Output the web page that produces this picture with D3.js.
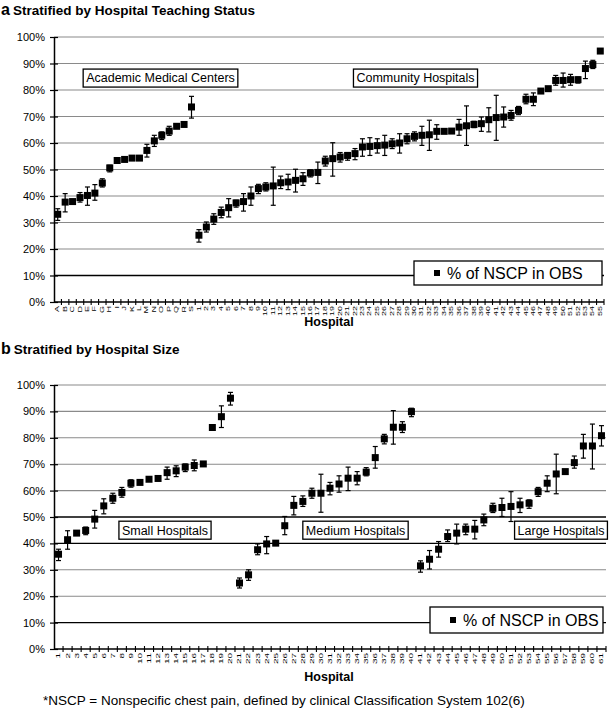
<!DOCTYPE html>
<html>
<head>
<meta charset="utf-8">
<script src="https://cdn.jsdelivr.net/npm/d3@7"></script>
<style>
  body { margin: 0; background: #fff; }
  text { font-family: Arial, "Liberation Sans", sans-serif; }
</style>
</head>
<body>
<svg id="chart" width="610" height="710"></svg>
<script>
// ---- panel a : teaching status ----
var teachCats = ["A","B","C","D","E","F","G","H","I","J","K","L","M","N","O","P","Q","R","S",
  "1","2","3","4","5","6","7","8","9","10","11","12","13","14","15","16","17","18","19","20",
  "21","22","23","24","25","26","27","28","29","30","31","32","33","34","35","36","37","38","39","40",
  "41","42","43","44","45","46","47","48","49","50","51","52","53","54","55"];
var teachVal = [33.1,37.7,37.9,39.4,40.2,41.1,44.9,50.6,53.4,53.8,54.3,54.3,57.2,60.8,62.9,64.5,66.3,67.0,73.6,
  25.2,28.3,31.3,33.8,35.6,37.4,37.9,40.0,42.8,43.4,43.8,45.0,45.3,45.9,46.5,48.7,48.9,53.2,54.1,54.7,
  55.3,56.0,58.5,58.7,59.0,59.2,59.7,60.0,61.6,62.5,62.9,63.1,64.4,64.4,64.5,66.0,66.5,67.0,67.3,68.8,
  69.6,69.8,70.4,72.3,76.5,76.5,79.6,80.5,83.6,83.6,83.9,83.9,88.1,89.6,94.7];
var teachLo = [30.8,34.0,37.2,37.7,36.5,38.4,43.4,49.1,52.8,53.3,53.8,53.8,54.7,58.7,61.3,62.9,65.6,66.2,69.4,
  22.6,26.4,29.3,31.8,32.1,35.8,34.3,36.5,40.9,41.9,36.5,42.8,42.4,41.5,44.0,47.2,44.7,51.3,47.5,52.8,
  53.5,53.7,55.0,55.3,56.2,55.3,57.9,56.2,59.7,60.8,59.1,57.2,61.4,63.6,63.7,62.9,59.1,65.8,64.4,64.2,
  61.0,66.0,68.6,70.7,74.8,74.1,79.0,79.9,81.8,81.1,81.8,82.6,84.3,88.1,94.2];
var teachHi = [35.2,40.9,38.6,41.3,43.4,44.3,46.5,51.6,54.0,54.3,54.8,54.8,59.5,62.9,64.2,66.3,67.0,67.8,77.6,
  27.3,30.2,33.3,35.8,39.0,38.4,40.9,43.4,44.4,45.0,50.9,47.5,48.2,50.1,48.8,49.9,52.8,55.0,60.1,56.4,
  56.4,57.9,61.6,62.0,61.6,62.9,61.6,63.5,63.5,64.2,66.3,68.6,66.9,65.2,65.3,68.9,74.0,68.2,69.8,73.3,
  78.0,73.6,72.3,73.8,78.4,78.9,80.2,81.1,85.5,86.4,85.9,84.9,90.9,91.2,95.2];

// ---- panel b : hospital size ----
var sizeCats = ["1","2","3","4","5","6","7","8","9","10","11","12","13","14","15","16","17","18","19","20",
  "21","22","23","24","25","26","27","28","29","30","31","32","33","34","35","36","37","38","39","40",
  "41","42","43","44","45","46","47","48","49","50","51","52","53","54","55","56","57","58","59","60","61"];
var sizeVal = [35.9,41.4,43.9,44.9,49.2,54.2,57.1,59.3,62.8,63.1,64.3,64.6,66.8,67.5,68.9,69.5,70.1,83.9,88.0,95.0,
  25.0,28.1,37.6,39.8,40.1,46.7,54.4,55.9,59.0,59.0,60.9,62.5,64.7,64.7,67.0,72.5,79.6,84.0,84.0,89.9,
  31.5,34.0,37.8,42.6,43.9,45.4,45.4,48.9,53.3,53.6,54.0,54.6,55.2,59.6,62.8,66.3,67.2,70.6,76.9,76.9,80.8];
var sizeLo = [33.5,37.8,43.2,43.3,45.8,51.2,55.2,57.5,61.3,62.4,63.6,63.9,64.3,65.3,67.2,67.5,69.4,83.2,83.9,92.4,
  23.1,26.0,35.7,36.1,39.4,43.3,50.8,54.0,57.1,51.8,58.4,59.4,60.0,62.2,65.6,68.5,77.7,77.6,82.0,88.0,
  29.1,30.3,34.8,40.7,39.8,43.3,41.7,46.7,51.7,50.2,48.3,51.7,53.3,57.8,59.6,58.8,66.5,68.5,72.3,68.2,76.9];
var sizeHi = [37.8,44.8,44.6,46.2,52.5,56.9,59.0,61.2,64.1,63.8,65.0,65.3,68.9,69.4,70.1,71.6,70.8,84.6,92.1,97.2,
  26.9,30.0,39.8,42.6,40.8,50.2,57.8,58.0,60.9,66.2,63.1,65.6,68.9,67.2,68.7,76.7,81.3,90.3,86.1,91.2,
  33.4,37.3,40.7,45.1,47.3,47.3,48.7,51.1,55.2,57.1,59.6,57.1,56.5,61.2,65.6,73.8,67.9,73.1,81.3,85.2,84.6];

var yTicks = [0,10,20,30,40,50,60,70,80,90,100];
var legendText = "% of NSCP in OBS";
var footnote = "*NSCP = Nonspecific chest pain, defined by clinical Classification System 102(6)";

var svg = d3.select("#chart");

function drawPanel(p) {
  var g = svg.append("g");
  var x = d3.scaleBand().domain(p.cats).range([p.left, p.right]);
  var y = d3.scaleLinear().domain([0, 100]).range([p.bottom, p.top]);

  // gridlines
  g.selectAll("line.grid").data(yTicks.filter(function(d){ return d > 0; }))
    .enter().append("line")
    .attr("x1", p.left).attr("x2", p.right)
    .attr("y1", function(d){ return y(d); }).attr("y2", function(d){ return y(d); })
    .attr("stroke", function(d){ return p.dark.indexOf(d) >= 0 ? "#000" : "#8a8a8a"; })
    .attr("stroke-width", function(d){ return p.dark.indexOf(d) >= 0 ? 1.4 : 1.1; });

  // y axis
  var ya = d3.axisLeft(y).tickValues(yTicks).tickSize(0).tickPadding(9)
    .tickFormat(function(d){ return d + "%"; });
  var yg = g.append("g").attr("transform", "translate(" + p.left + ",0)").call(ya);
  yg.select(".domain").attr("stroke", "#000").attr("stroke-width", 1.5);
  yg.selectAll("text").attr("font-size", 11).attr("fill", "#000").attr("font-family", "Arial, 'Liberation Sans', sans-serif");
  yg.selectAll(".tick").append("line").attr("x1", -4).attr("x2", 4).attr("stroke", "#000").attr("stroke-width", 1.2);

  // x axis with cross ticks at category boundaries
  g.append("line").attr("x1", p.left).attr("x2", p.right)
    .attr("y1", p.bottom).attr("y2", p.bottom).attr("stroke", "#000").attr("stroke-width", 1.5);
  var bounds = p.cats.map(function(c){ return x(c) + x.bandwidth(); });
  g.selectAll("line.xt").data(bounds).enter().append("line")
    .attr("x1", function(d){ return d; }).attr("x2", function(d){ return d; })
    .attr("y1", p.bottom - 3).attr("y2", p.bottom + 3)
    .attr("stroke", "#000").attr("stroke-width", 1.1);
  g.selectAll("text.xl").data(p.cats).enter().append("text")
    .attr("transform", function(d){
      return "translate(" + (x(d) + x.bandwidth() / 2) + "," + (p.bottom + 4) + ") rotate(-90) scale(1," + p.squish + ")";
    })
    .attr("text-anchor", "end").attr("dy", "0.35em")
    .attr("font-size", p.labelSize).attr("fill", "#000")
    .text(function(d){ return d; });

  // annotation boxes
  p.boxes.forEach(function(b) {
    var t = g.append("text").attr("x", b.cx).attr("y", y(b.v)).attr("dy", "0.35em")
      .attr("text-anchor", "middle").attr("font-size", 12.5).text(b.text);
    var bb = t.node().getBBox();
    g.insert("rect", function(){ return t.node(); })
      .attr("x", bb.x - 3).attr("y", y(b.v) - 9).attr("width", bb.width + 6).attr("height", 18)
      .attr("fill", "#fff").attr("stroke", "#000").attr("stroke-width", 1.3);
  });

  // error bars
  var data = p.cats.map(function(c, i){ return {c: c, v: p.val[i], lo: p.lo[i], hi: p.hi[i]}; });
  var eb = g.selectAll("g.eb").data(data).enter().append("g")
    .attr("stroke", "#000").attr("stroke-width", 1.2);
  eb.append("line")
    .attr("x1", function(d){ return x(d.c) + x.bandwidth() / 2; })
    .attr("x2", function(d){ return x(d.c) + x.bandwidth() / 2; })
    .attr("y1", function(d){ return y(d.lo); }).attr("y2", function(d){ return y(d.hi); });
  [ "lo", "hi" ].forEach(function(k) {
    eb.append("line")
      .attr("x1", function(d){ return x(d.c) + x.bandwidth() / 2 - 2.5; })
      .attr("x2", function(d){ return x(d.c) + x.bandwidth() / 2 + 2.5; })
      .attr("y1", function(d){ return y(d[k]); }).attr("y2", function(d){ return y(d[k]); });
  });

  // markers
  g.selectAll("rect.pt").data(data).enter().append("rect")
    .attr("x", function(d){ return x(d.c) + x.bandwidth() / 2 - p.ms / 2; })
    .attr("y", function(d){ return y(d.v) - p.ms / 2; })
    .attr("width", p.ms).attr("height", p.ms).attr("fill", "#000");

  // legend
  var L = p.legend;
  g.append("rect").attr("x", L.x).attr("y", L.y).attr("width", L.w).attr("height", L.h)
    .attr("fill", "#fff").attr("stroke", "#000").attr("stroke-width", 1.3);
  g.append("rect").attr("x", L.x + 20).attr("y", L.y + L.h / 2 - 3).attr("width", 6).attr("height", 6).attr("fill", "#000");
  g.append("text").attr("x", L.x + 33).attr("y", L.y + L.h / 2).attr("dy", "0.36em")
    .attr("font-size", 16).text(legendText);

  // x title
  g.append("text").attr("x", 329).attr("y", p.titleY).attr("text-anchor", "middle")
    .attr("font-size", 12.5).attr("font-weight", "bold").text("Hospital");

  // panel heading
  var h = g.append("text").attr("x", 1).attr("y", p.headY).attr("font-weight", "bold");
  h.append("tspan").attr("font-size", 16).text(p.letter);
  h.append("tspan").attr("font-size", 13.5).attr("dx", 3).text(p.heading);
}

drawPanel({
  cats: teachCats, val: teachVal, lo: teachLo, hi: teachHi,
  left: 54, right: 604, top: 37, bottom: 302,
  dark: [10], squish: 0.5, labelSize: 9, ms: 7,
  boxes: [{text: "Academic Medical Centers", cx: 160.5, v: 84.5},
          {text: "Community Hospitals", cx: 415.5, v: 84.5}],
  legend: {x: 414, y: 261, w: 188, h: 24},
  titleY: 326, headY: 15, letter: "a", heading: "Stratified by Hospital Teaching Status"
});

drawPanel({
  cats: sizeCats, val: sizeVal, lo: sizeLo, hi: sizeHi,
  left: 54, right: 606, top: 385, bottom: 649,
  dark: [10, 40, 50], squish: 0.55, labelSize: 10, ms: 7,
  boxes: [{text: "Small Hospitals", cx: 165, v: 45},
          {text: "Medium Hospitals", cx: 355.5, v: 45},
          {text: "Large Hospitals", cx: 561, v: 45}],
  legend: {x: 430, y: 607, w: 173, h: 26},
  titleY: 681, headY: 354, letter: "b", heading: "Stratified by Hospital Size"
});

svg.append("text").attr("x", 43).attr("y", 705).attr("font-size", 13.5).text(footnote);
</script>
</body>
</html>
